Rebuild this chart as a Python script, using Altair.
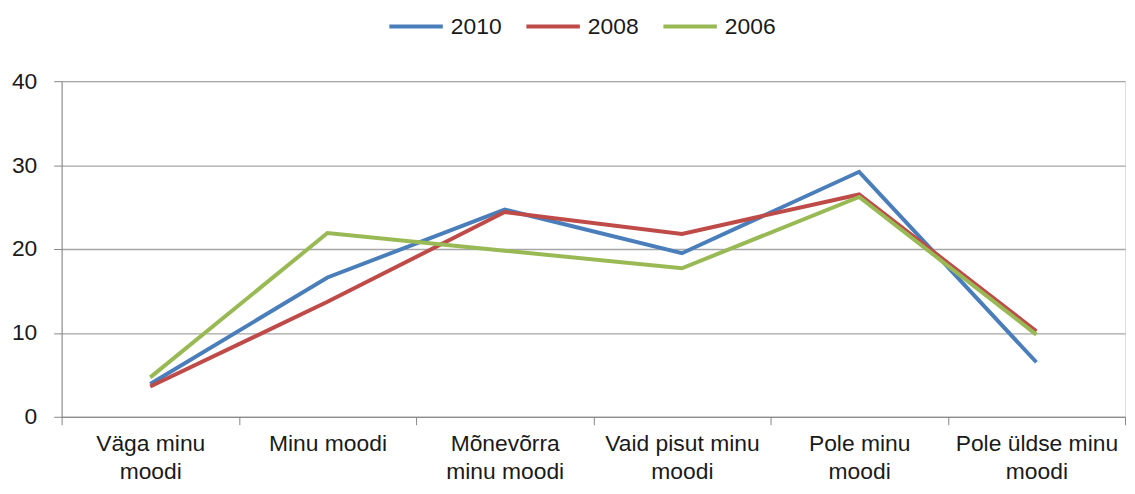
import altair as alt
import pandas as pd

categories = ["Väga minu moodi", "Minu moodi", "Mõnevõrra minu moodi",
              "Vaid pisut minu moodi", "Pole minu moodi", "Pole üldse minu moodi"]
wrapped = [["Väga minu", "moodi"], ["Minu moodi"], ["Mõnevõrra", "minu moodi"],
           ["Vaid pisut minu", "moodi"], ["Pole minu", "moodi"], ["Pole üldse minu", "moodi"]]
series = ["2010", "2008", "2006"]
v2010 = [3.9, 16.6, 24.7, 19.5, 29.2, 6.5]
v2008 = [3.6, 13.7, 24.4, 21.8, 26.5, 10.2]
v2006 = [4.7, 21.9, 19.8, 17.7, 26.2, 9.8]
colors = ["#4a7ebb", "#be4b48", "#98b954"]

rows = []
for s, vals in zip(series, [v2010, v2008, v2006]):
    for c, v in zip(categories, vals):
        rows.append({"cat": c, "year": s, "value": v})
df = pd.DataFrame(rows)

expr = ""
for c, w in zip(categories, wrapped):
    arr = "[" + ",".join("'" + p + "'" for p in w) + "]"
    expr += f"datum.value == '{c}' ? {arr} : "
expr += "datum.value"

FONT = "Liberation Sans"
FS = 23

chart = alt.Chart(df).mark_line(strokeWidth=4).encode(
    x=alt.X("cat:N", sort=categories, title=None, bandPosition=0.5,
            scale=alt.Scale(type="band", paddingInner=0, paddingOuter=0),
            axis=alt.Axis(labelAngle=0, labelExpr=expr, labelFontSize=FS,
                          labelFont=FONT, labelColor="#1a1a1a", labelLineHeight=28,
                          labelPadding=8, tickBand="extent", tickSize=8,
                          tickColor="#868686", domainColor="#868686",
                          grid=False, labelBaseline="top")),
    y=alt.Y("value:Q", title=None,
            scale=alt.Scale(domain=[0, 40]),
            axis=alt.Axis(values=[0, 10, 20, 30, 40], labelFontSize=FS, labelFont=FONT,
                          labelColor="#1a1a1a", labelPadding=17, tickSize=8,
                          tickColor="#868686", domainColor="#868686",
                          gridColor="#a6a6a6", gridWidth=1.3)),
    color=alt.Color("year:N", sort=series,
                    scale=alt.Scale(domain=series, range=colors),
                    legend=alt.Legend(title=None, orient="none", direction="horizontal",
                                      legendX=328, legendY=-84,
                                      symbolType="stroke", symbolSize=2900,
                                      symbolStrokeWidth=4, labelFontSize=FS,
                                      labelFont=FONT, labelColor="#1a1a1a",
                                      columnPadding=16, labelOffset=6)),
).properties(
    width=1071, height=338,
    autosize=alt.AutoSizeParams(type="none"),
    padding={"left": 54, "top": 72, "right": 2, "bottom": 68},
).configure_view(stroke=None).configure(background="white")

chart.save("out.html", embed_options={"renderer": "svg", "actions": False})
